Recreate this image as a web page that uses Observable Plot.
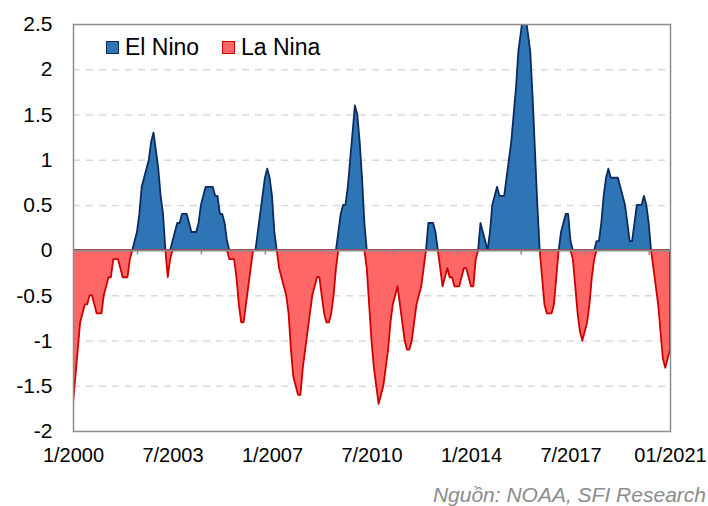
<!DOCTYPE html>
<html>
<head>
<meta charset="utf-8">
<script src="https://cdn.jsdelivr.net/npm/d3@7"></script>
<script src="https://cdn.jsdelivr.net/npm/@observablehq/plot@0.6"></script>
<style>
  html, body { margin: 0; padding: 0; background: #fff; }
  #wrap { position: relative; width: 708px; height: 506px; font-family: "Liberation Sans", Arial, sans-serif; }
  .leg { position: absolute; top: 34px; display: flex; align-items: center; font-size: 23px; color: #000; }
  .sw { width: 11px; height: 11px; margin-right: 6px; }
  #cap { position: absolute; top: 483px; right: 2px; font-size: 21px; font-style: italic; color: #8C8C8C; }
</style>
</head>
<body>
<div id="wrap">
  <div id="chart"></div>
  <div class="leg" style="left:106px"><div class="sw" style="background:#2E75B6;border:1.5px solid #0D2B5E"></div>El Nino</div>
  <div class="leg" style="left:222px"><div class="sw" style="background:#FF6666;border:1.5px solid #CC0000"></div>La Nina</div>
  <div id="cap">Nguồn: NOAA, SFI Research</div>
</div>
<script>
// Monthly ONI values, Jan 2000 .. Jan 2021 (one row per year)
const oni = [
  -1.7, -1.4, -1.1, -0.8, -0.7, -0.6, -0.6, -0.5, -0.5, -0.6, -0.7, -0.7, // 2000
  -0.7, -0.5, -0.4, -0.3, -0.3, -0.1, -0.1, -0.1, -0.2, -0.3, -0.3, -0.3, // 2001
  -0.1,  0.0,  0.1,  0.2,  0.4,  0.7,  0.8,  0.9,  1.0,  1.2,  1.3,  1.1, // 2002
   0.9,  0.6,  0.4,  0.0, -0.3, -0.1,  0.1,  0.2,  0.3,  0.3,  0.4,  0.4, // 2003
   0.4,  0.3,  0.2,  0.2,  0.2,  0.3,  0.5,  0.6,  0.7,  0.7,  0.7,  0.7, // 2004
   0.6,  0.6,  0.4,  0.4,  0.3,  0.1, -0.1, -0.1, -0.1, -0.3, -0.6, -0.8, // 2005
  -0.8, -0.6, -0.4, -0.2,  0.0,  0.0,  0.2,  0.4,  0.6,  0.8,  0.9,  0.8, // 2006
   0.6,  0.2,  0.0, -0.2, -0.3, -0.4, -0.5, -0.7, -1.1, -1.4, -1.5, -1.6, // 2007
  -1.6, -1.3, -1.1, -0.9, -0.7, -0.5, -0.4, -0.3, -0.3, -0.5, -0.7, -0.8, // 2008
  -0.8, -0.7, -0.5, -0.2,  0.2,  0.4,  0.5,  0.5,  0.7,  1.0,  1.3,  1.6, // 2009
   1.5,  1.2,  0.8,  0.3, -0.2, -0.6, -1.0, -1.3, -1.5, -1.7, -1.6, -1.5, // 2010
  -1.3, -1.1, -0.8, -0.6, -0.5, -0.4, -0.6, -0.8, -1.0, -1.1, -1.1, -1.0, // 2011
  -0.8, -0.6, -0.5, -0.4, -0.2,  0.0,  0.3,  0.3,  0.3,  0.2,  0.0, -0.2, // 2012
  -0.4, -0.3, -0.2, -0.3, -0.3, -0.4, -0.4, -0.4, -0.3, -0.2, -0.2, -0.3, // 2013
  -0.4, -0.4, -0.1,  0.0,  0.3,  0.2,  0.1,  0.0,  0.2,  0.5,  0.6,  0.7, // 2014
   0.6,  0.6,  0.6,  0.8,  1.0,  1.2,  1.5,  1.8,  2.2,  2.4,  2.6,  2.6, // 2015
   2.4,  2.2,  1.7,  1.1,  0.5,  0.0, -0.3, -0.6, -0.7, -0.7, -0.7, -0.6, // 2016
  -0.3,  0.0,  0.2,  0.3,  0.4,  0.4,  0.1, -0.1, -0.4, -0.7, -0.9, -1.0, // 2017
  -0.9, -0.8, -0.6, -0.3, -0.1,  0.1,  0.1,  0.3,  0.6,  0.8,  0.9,  0.8, // 2018
   0.8,  0.8,  0.8,  0.7,  0.6,  0.5,  0.3,  0.1,  0.1,  0.3,  0.5,  0.5, // 2019
   0.5,  0.6,  0.5,  0.3,  0.0, -0.2, -0.4, -0.6, -0.9, -1.2, -1.3, -1.2, // 2020
  -1.1                                                                    // 2021
];
const tickLabels = ["1/2000", "7/2003", "1/2007", "7/2010", "1/2014", "7/2017", "01/2021"];
const labelMonths = [0, 42, 84, 126, 168, 210, 252];
const tickMonths = [27, 54, 81, 108, 135, 162, 189, 216, 243];
const yTicks = [-2, -1.5, -1, -0.5, 0, 0.5, 1, 1.5, 2, 2.5];
const gridVals = [-1.5, -1, -0.5, 0.5, 1, 1.5, 2];

const data = oni.map((v, i) => ({i, v, pos: Math.max(v, 0), neg: Math.min(v, 0)}));

const chart = Plot.plot({
  width: 708,
  height: 482,
  marginLeft: 73,
  marginRight: 38,
  marginTop: 24,
  marginBottom: 51,
  style: {fontFamily: '"Liberation Sans", Arial, sans-serif', color: "#000", background: "#fff", overflow: "visible"},
  x: {domain: [0, 252]},
  y: {domain: [-2, 2.5]},
  marks: [
    Plot.ruleY(gridVals, {stroke: "#D9D9D9", strokeWidth: 1.5, strokeDasharray: "7,6"}),
    Plot.areaY(data, {x: "i", y1: 0, y2: "pos", fill: "#2E75B6", stroke: "#0D2B5E", strokeWidth: 1.8, clip: true}),
    Plot.areaY(data, {x: "i", y1: 0, y2: "neg", fill: "#FF6666", stroke: "#CC0000", strokeWidth: 1.8, clip: true}),
    Plot.ruleY([0], {stroke: "#8C8C8C", strokeWidth: 2}),
    Plot.ruleX(tickMonths, {y1: 0, y2: -0.05, stroke: "#8C8C8C", strokeWidth: 1.5}),
    Plot.frame({stroke: "#8C8C8C", strokeWidth: 1.5}),
    Plot.axisY({ticks: yTicks, tickSize: 0, tickPadding: 21, tickFormat: d => String(d), fontSize: 21, label: null}),
    Plot.axisX({ticks: labelMonths, tickSize: 0, tickPadding: 16, tickFormat: d => tickLabels[labelMonths.indexOf(d)], fontSize: 20, label: null})
  ]
});
document.getElementById("chart").appendChild(chart);
</script>
</body>
</html>
